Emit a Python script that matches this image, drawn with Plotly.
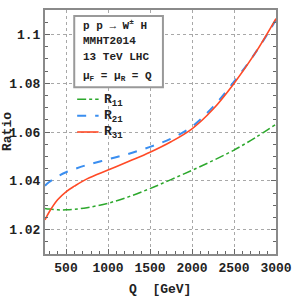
import plotly.graph_objects as go

Q = [250, 300, 400, 500, 600, 750, 1000, 1250, 1500, 1750, 2000, 2250, 2500, 2750, 3000]
R11 = [1.0287, 1.0284, 1.0281, 1.0281, 1.0283, 1.0290, 1.0308, 1.0335, 1.0368, 1.0405, 1.0443, 1.0483, 1.0526, 1.0576, 1.0632]
R21 = [1.0380, 1.0395, 1.0418, 1.0435, 1.0448, 1.0465, 1.0488, 1.0511, 1.0539, 1.0573, 1.0622, 1.0703, 1.0806, 1.0922, 1.1060]
R31 = [1.0240, 1.0272, 1.0322, 1.0355, 1.0378, 1.0408, 1.0444, 1.0480, 1.0517, 1.0560, 1.0613, 1.0693, 1.0799, 1.0922, 1.1065]

x_ticks = [500, 1000, 1500, 2000, 2500, 3000]
x_ticktext = ["<b>500</b>", "<b>1000</b>", "<b>1500</b>", "<b>2000</b>", "<b>2500</b>", "<b>3000</b>"]
y_ticks = [1.02, 1.04, 1.06, 1.08, 1.1]
y_ticktext = ["<b>1.02</b>", "<b>1.04</b>", "<b>1.06</b>", "<b>1.08</b>", "<b>1.1</b>"]

names = ["R<sub>11</sub>", "R<sub>21</sub>", "R<sub>31</sub>"]
colors = ["#2ca82c", "#3a8ef0", "#ff4a26"]
dashes = ["dashdot", "dash", "solid"]
widths = [1.5, 2, 1.6]

FONT = "Liberation Mono"

fig = go.Figure()
for vals, n, c, d, w in zip([R11, R21, R31], names, colors, dashes, widths):
    fig.add_trace(go.Scatter(x=Q, y=vals, mode="lines", name=n, showlegend=False, hoverinfo="skip",
                             line=dict(color=c, dash=d, width=w, shape="spline", smoothing=1.0)))

axis_common = dict(
    showline=True, linecolor="#8a8a8a", linewidth=2,
    ticks="inside", ticklen=5, tickcolor="#666", tickwidth=1,
    showgrid=True, gridcolor="#a8a8a8", griddash="dot", gridwidth=1,
    zeroline=False,
    tickfont=dict(family=FONT, size=13, color="#222"),
)

fig.update_xaxes(
    range=[250, 3000], tickvals=x_ticks, ticktext=x_ticktext, mirror=True,
    minor=dict(dtick=100, tick0=0, ticks="inside", ticklen=3, tickcolor="#666", showgrid=False),
    **axis_common,
)
fig.update_yaxes(
    range=[1.01, 1.11], tickvals=y_ticks, ticktext=y_ticktext, mirror="ticks",
    minor=dict(dtick=0.005, tick0=1.0, ticks="inside", ticklen=3, tickcolor="#666", showgrid=False),
    **axis_common,
)

fig.update_layout(
    width=300, height=300,
    margin=dict(l=45, r=18, t=8, b=46),
    paper_bgcolor="white", plot_bgcolor="white",
    font=dict(family=FONT, size=13, color="#222"),
    showlegend=False, hovermode=False,
)

def px_x(p):
    return (p - 45) / 237

def px_y(p):
    return 1 - (p - 8) / 246

# axis titles
fig.add_annotation(text="<b>Q  [GeV]</b>", xref="paper", yref="paper", x=px_x(163), y=px_y(290),
                   xanchor="center", yanchor="middle", showarrow=False,
                   font=dict(family=FONT, size=13, color="#222"))
fig.add_annotation(text="<b>Ratio</b>", xref="paper", yref="paper", x=px_x(6), y=px_y(130),
                   xanchor="center", yanchor="middle", showarrow=False, textangle=-90,
                   font=dict(family=FONT, size=13, color="#222"))

# legend keys
leg_rows = [98, 114.5, 131]
for n, c, d, w, yp in zip(names, colors, dashes, widths, leg_rows):
    fig.add_shape(type="line", xref="paper", yref="paper", x0=px_x(78), x1=px_x(100),
                  y0=px_y(yp), y1=px_y(yp), line=dict(color=c, dash=d, width=w))
    fig.add_annotation(text="<b>" + n + "</b>", xref="paper", yref="paper", x=px_x(103), y=px_y(yp + 1),
                       xanchor="left", yanchor="middle", showarrow=False,
                       font=dict(family=FONT, size=13, color="#222"))

# info box
fig.add_shape(type="rect", xref="paper", yref="paper", x0=px_x(75), x1=px_x(166), y0=px_y(86), y1=px_y(14),
              line=dict(color="#999", width=2), fillcolor="white", layer="above")
lines = ["<b>p p \u2192 W<sup>\u00b1</sup> H</b>", "<b>MMHT2014</b>", "<b>13 TeV LHC</b>",
         "<b>\u03bc<sub>F</sub> = \u03bc<sub>R</sub> = Q</b>"]
ys = [23, 39, 55, 75]
for t, yp in zip(lines, ys):
    fig.add_annotation(text=t, xref="paper", yref="paper", x=px_x(82), y=px_y(yp),
                       xanchor="left", yanchor="middle", showarrow=False,
                       font=dict(family=FONT, size=11, color="#222"))

# remove the browser's default 8px body margin so the 300x300 figure fills the window
fig.write_html("out.html", config={"displayModeBar": False, "staticPlot": True},
               post_script="document.body.style.margin='0';")
